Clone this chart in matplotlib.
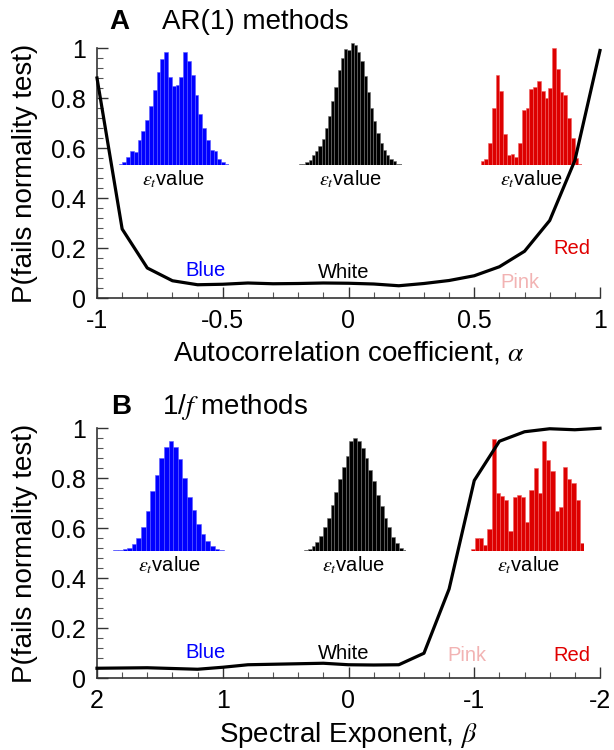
import matplotlib
matplotlib.use('Agg')
import matplotlib.pyplot as plt
import numpy as np
from matplotlib.ticker import MultipleLocator, FuncFormatter

plt.rcParams['font.family'] = ['Liberation Sans', 'DejaVu Sans']
plt.rcParams['mathtext.fontset'] = 'stix'
plt.rcParams['axes.unicode_minus'] = False

# ---------------- data ----------------
alpha_vals = [-1.0, -0.9, -0.8, -0.7, -0.6, -0.5, -0.4, -0.3, -0.2, -0.1, 0.0,
              0.1, 0.2, 0.3, 0.4, 0.5, 0.6, 0.7, 0.8, 0.9, 1.0]
p_ar = [0.88, 0.276, 0.12, 0.069, 0.053, 0.055, 0.060, 0.057, 0.058, 0.060, 0.059,
        0.056, 0.049, 0.058, 0.070, 0.089, 0.125, 0.187, 0.31, 0.55, 0.99]

beta_vals = [2.0, 1.8, 1.6, 1.4, 1.2, 1.0, 0.8, 0.6, 0.4, 0.2, 0.0,
             -0.2, -0.4, -0.6, -0.8, -1.0, -1.2, -1.4, -1.6, -1.8, -2.0]
p_f = [0.039, 0.040, 0.041, 0.038, 0.035, 0.043, 0.053, 0.055, 0.057, 0.059, 0.053,
       0.052, 0.053, 0.099, 0.356, 0.79, 0.947, 0.985, 0.997, 0.993, 0.999]

# inset histogram bar heights (relative counts)
hist_ar_blue = [0.01, 0.02, 0.07, 0.12, 0.11, 0.22, 0.30, 0.40, 0.52, 0.66, 0.82, 0.94,
                1.00, 0.78, 0.70, 0.71, 0.78, 1.00, 0.92, 0.80, 0.62, 0.45, 0.33, 0.22,
                0.13, 0.12, 0.05, 0.02, 0.01]
hist_ar_black = [0.005, 0.01, 0.02, 0.04, 0.08, 0.11, 0.15, 0.21, 0.30, 0.40, 0.52, 0.64,
                 0.78, 0.88, 0.95, 0.94, 1.00, 0.98, 0.93, 0.85, 0.73, 0.60, 0.47, 0.36,
                 0.26, 0.18, 0.12, 0.08, 0.05, 0.03, 0.01, 0.005]
hist_ar_red = [0.03, 0.05, 0.19, 0.49, 0.77, 0.63, 0.26, 0.08, 0.09, 0.07, 0.19, 0.47,
               0.49, 0.65, 0.67, 0.72, 0.63, 0.57, 0.66, 1.00, 0.82, 0.62, 0.60, 0.40,
               0.23, 0.06, 0.01]
hist_f_blue = [0.005, 0.01, 0.015, 0.03, 0.065, 0.12, 0.22, 0.36, 0.54, 0.69, 0.84, 0.94,
               1.00, 0.94, 0.83, 0.66, 0.49, 0.37, 0.24, 0.15, 0.09, 0.045, 0.02, 0.008, 0.004]
hist_f_black = [0.01, 0.015, 0.04, 0.08, 0.13, 0.21, 0.29, 0.41, 0.52, 0.64, 0.74, 0.84,
                0.97, 1.00, 0.97, 0.91, 0.82, 0.72, 0.62, 0.50, 0.40, 0.29, 0.21, 0.12,
                0.07, 0.03, 0.01]
hist_f_red = [0.02, 0.12, 0.12, 0.05, 0.20, 1.00, 0.52, 0.49, 0.45, 0.18, 0.48, 0.50,
              0.48, 0.26, 0.54, 0.74, 0.52, 0.98, 0.81, 0.71, 0.36, 0.39, 0.75, 0.64,
              0.61, 0.45, 0.07]

ticks_ar_x = [-1, -0.5, 0, 0.5, 1]
ticks_f_x = [2, 1, 0, -1, -2]
ticks_y = [0, 0.2, 0.4, 0.6, 0.8, 1.0]

color_names = ['Blue', 'White', 'Pink', 'Red']
name_colors = ['#0000ff', '#000000', '#f2b3b3', '#e00000']
ar_name_pos = [(-0.567, 0.089), (-0.019, 0.080), (0.680, 0.040), (0.888, 0.176)]
f_name_pos = [(1.135, 0.080), (0.037, 0.076), (-0.941, 0.069), (-1.776, 0.069)]

# ---------------- figure ----------------
fig = plt.figure(figsize=(6.14, 7.5), dpi=100)

axA = fig.add_axes([97/614, 1-298/750, 503/614, 250/750])
axB = fig.add_axes([97/614, 1-678/750, 503/614, 250/750])

fmt = FuncFormatter(lambda v, p: '%g' % v)


def style(ax, xminor):
    for s in ['top', 'right']:
        ax.spines[s].set_visible(False)
    for s in ['left', 'bottom']:
        ax.spines[s].set_color('#333333')
        ax.spines[s].set_linewidth(1.2)
    ax.set_ylim(0, 1)
    ax.set_yticks(ticks_y)
    ax.yaxis.set_major_formatter(fmt)
    ax.xaxis.set_major_formatter(fmt)
    ax.xaxis.set_minor_locator(MultipleLocator(xminor))
    ax.yaxis.set_minor_locator(MultipleLocator(0.04))
    ax.tick_params(which='major', direction='in', length=8, width=1.0,
                   color='#333333', labelsize=18, pad=8)
    ax.tick_params(which='minor', direction='in', length=4, width=0.8, color='#555555')
    ax.set_ylabel('P(fails normality test)', fontsize=20)
    ax.yaxis.set_label_coords(-0.118, 0.5)


def hist_inset(ax, bounds, heights, color, edge, zorder=1):
    ins = ax.inset_axes(bounds)
    ins.set_zorder(zorder)
    x = np.arange(len(heights))
    ins.bar(x, heights, width=1.0, color=color, edgecolor=edge, linewidth=0.4)
    ins.set_xlim(-0.5, len(heights) - 0.5)
    ins.set_ylim(0, max(heights))
    ins.axis('off')
    return ins


# ---- Panel A ----
style(axA, 0.1)
axA.set_xlim(-1, 1)
axA.set_xticks(ticks_ar_x)
axA.set_xlabel('Autocorrelation coefficient, $\\alpha$', fontsize=20)
axA.xaxis.set_label_coords(0.5, -0.167)

hist_inset(axA, [0.043, 0.533, 0.219, 0.451], hist_ar_blue, '#0000ff', '#5a5aff')
hist_inset(axA, [0.4015, 0.533, 0.2055, 0.487], hist_ar_black, '#000000', '#707070')
hist_inset(axA, [0.7625, 0.533, 0.202, 0.467], hist_ar_red, '#dd0000', '#f06060')
for xc in [0.1525, 0.504, 0.8635]:
    axA.text(xc, 0.451, r'$\varepsilon_t$value', transform=axA.transAxes,
             ha='center', va='baseline', fontsize=14.5)

axA.plot(alpha_vals, p_ar, color='black', lw=2.3, zorder=10, clip_on=False)
for name, c, (x, y) in zip(color_names, name_colors, ar_name_pos):
    axA.text(x, y, name, color=c, ha='center', va='baseline', fontsize=14.5)

fig.text(109.5/614, 1-29/750, 'A', fontsize=20, fontweight='bold', va='baseline')
fig.text(162/614, 1-29/750, 'AR(1) methods', fontsize=20, va='baseline')

# ---- Panel B ----
style(axB, 0.2)
axB.set_xlim(2, -2)
axB.set_xticks(ticks_f_x)
axB.set_xlabel('Spectral Exponent, $\\beta$', fontsize=20)
axB.xaxis.set_label_coords(0.5, -0.167)

hist_inset(axB, [0.0325, 0.508, 0.229, 0.442], hist_f_blue, '#0000ff', '#5a5aff')
hist_inset(axB, [0.4115, 0.508, 0.2035, 0.452], hist_f_black, '#000000', '#707070')
hist_inset(axB, [0.743, 0.508, 0.225, 0.449], hist_f_red, '#dd0000', '#f06060')
for xc in [0.145, 0.51, 0.8575]:
    axB.text(xc, 0.425, r'$\varepsilon_t$value', transform=axB.transAxes,
             ha='center', va='baseline', fontsize=14.5)

axB.plot(beta_vals, p_f, color='black', lw=2.3, zorder=10, clip_on=False)
for name, c, (x, y) in zip(color_names, name_colors, f_name_pos):
    axB.text(x, y, name, color=c, ha='center', va='baseline', fontsize=14.5)

fig.text(111/614, 1-414/750, 'B', fontsize=20, fontweight='bold', va='baseline')
fig.text(162/614, 1-414/750, '1/$f$ methods', fontsize=20, va='baseline')

fig.savefig('out.png', dpi=100)
